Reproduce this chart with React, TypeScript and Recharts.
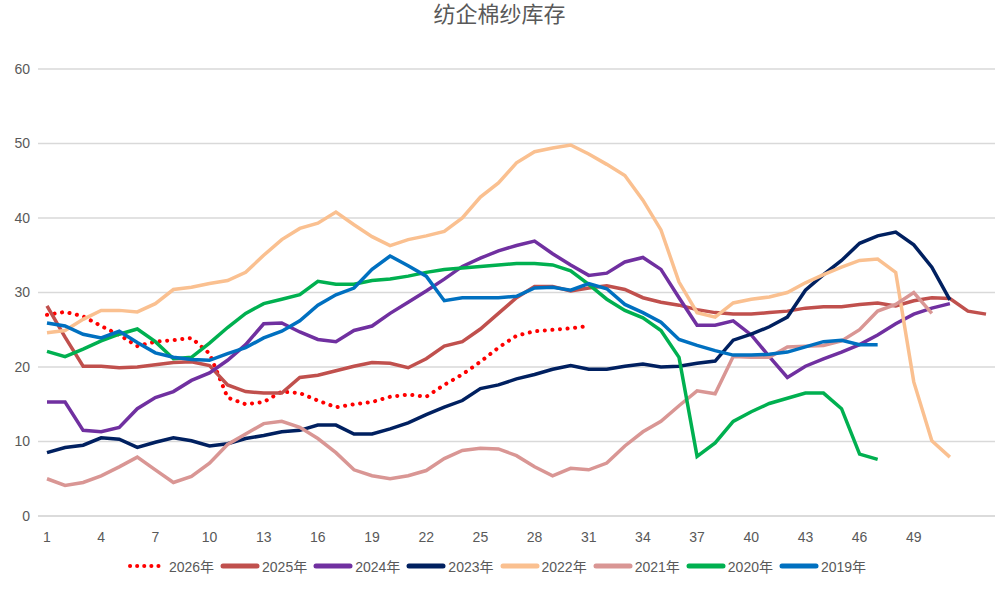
import { LineChart, Line, XAxis, YAxis, CartesianGrid } from "recharts";

const weeks = Array.from({ length: 53 }, (_, i) => String(i + 1));
const tickWeeks = ["1", "4", "7", "10", "13", "16", "19", "22", "25", "28", "31", "34", "37", "40", "43", "46", "49"];

const y2026 = [27, 27.4, 26.8, 25.5, 24.3, 22.8, 23.4, 23.6, 23.9, 21.8, 15.9, 15, 15.3, 16.7, 16.5, 15.5, 14.6, 15, 15.3, 16, 16.3, 16, 17.6, 19, 20.7, 22.6, 24.2, 24.8, 25, 25.2, 25.5];
const y2025 = [28.2, 24, 20.1, 20.1, 19.9, 20, 20.3, 20.6, 20.7, 20.2, 17.6, 16.7, 16.5, 16.5, 18.6, 18.9, 19.5, 20.1, 20.6, 20.5, 19.9, 21.1, 22.8, 23.4, 25.1, 27.2, 29.3, 30.8, 30.8, 30.2, 30.6, 30.9, 30.4, 29.3, 28.7, 28.3, 27.7, 27.3, 27.1, 27.1, 27.3, 27.5, 27.9, 28.1, 28.1, 28.4, 28.6, 28.2, 28.9, 29.3, 29.2, 27.5, 27.1];
const y2024 = [15.3, 15.3, 11.5, 11.3, 11.9, 14.4, 15.9, 16.7, 18.2, 19.2, 20.9, 23, 25.8, 25.9, 24.7, 23.7, 23.4, 24.9, 25.5, 27.2, 28.7, 30.2, 31.8, 33.5, 34.6, 35.6, 36.3, 36.9, 35.2, 33.7, 32.3, 32.6, 34.1, 34.7, 33.1, 29.3, 25.6, 25.6, 26.2, 24.3, 21.4, 18.6, 20.1, 21.1, 22, 23, 24.3, 25.8, 27.1, 27.9, 28.5];
const y2023 = [8.5, 9.2, 9.5, 10.5, 10.3, 9.2, 9.9, 10.5, 10.1, 9.4, 9.7, 10.4, 10.8, 11.3, 11.5, 12.2, 12.2, 11, 11, 11.7, 12.5, 13.6, 14.6, 15.5, 17.1, 17.6, 18.4, 19, 19.7, 20.2, 19.7, 19.7, 20.1, 20.4, 20, 20.1, 20.5, 20.8, 23.6, 24.4, 25.4, 26.7, 30.3, 32.4, 34.3, 36.6, 37.6, 38.1, 36.4, 33.4, 29];
const y2022 = [24.6, 24.9, 26.4, 27.6, 27.6, 27.4, 28.5, 30.4, 30.7, 31.2, 31.6, 32.7, 35, 37.1, 38.6, 39.3, 40.8, 39.1, 37.5, 36.3, 37.1, 37.6, 38.2, 40, 42.8, 44.7, 47.4, 48.9, 49.4, 49.8, 48.6, 47.2, 45.7, 42.4, 38.4, 31.4, 27.3, 26.7, 28.6, 29.1, 29.4, 30, 31.3, 32.4, 33.4, 34.3, 34.5, 32.7, 18, 10.1, 7.9];
const y2021 = [5, 4.1, 4.5, 5.4, 6.6, 7.9, 6.2, 4.5, 5.3, 7.1, 9.6, 11, 12.4, 12.7, 11.9, 10.4, 8.5, 6.2, 5.4, 5, 5.4, 6.1, 7.7, 8.8, 9.1, 9, 8.1, 6.6, 5.4, 6.4, 6.2, 7.1, 9.4, 11.3, 12.7, 14.8, 16.8, 16.4, 21.4, 21.3, 21.3, 22.7, 22.8, 22.9, 23.5, 25, 27.5, 28.4, 30, 27.2];
const y2020 = [22.1, 21.4, 22.4, 23.5, 24.4, 25.1, 23.4, 21.1, 21.3, 23.2, 25.3, 27.2, 28.5, 29.1, 29.7, 31.5, 31.1, 31.1, 31.6, 31.8, 32.2, 32.7, 33.1, 33.3, 33.5, 33.7, 33.9, 33.9, 33.7, 32.9, 31.1, 29.1, 27.6, 26.6, 24.9, 21.3, 8, 9.8, 12.7, 14, 15.1, 15.8, 16.5, 16.5, 14.4, 8.3, 7.6];
const y2019 = [25.9, 25.5, 24.4, 23.9, 24.8, 23.3, 21.9, 21.3, 21, 20.9, 21.8, 22.6, 23.9, 24.8, 26.2, 28.3, 29.7, 30.6, 33.1, 34.9, 33.6, 32.2, 28.9, 29.3, 29.3, 29.3, 29.5, 30.6, 30.7, 30.3, 31.2, 30.5, 28.4, 27.3, 26, 23.7, 22.9, 22.2, 21.6, 21.6, 21.7, 22, 22.7, 23.4, 23.6, 23, 23];

const series = [
  { key: "2026年", values: y2026, color: "#FF0000", dotted: true },
  { key: "2025年", values: y2025, color: "#C0504D" },
  { key: "2024年", values: y2024, color: "#7030A0" },
  { key: "2023年", values: y2023, color: "#002060" },
  { key: "2022年", values: y2022, color: "#FAC090" },
  { key: "2021年", values: y2021, color: "#D99694" },
  { key: "2020年", values: y2020, color: "#00B050" },
  { key: "2019年", values: y2019, color: "#0070C0" },
];

const data = weeks.map((w, i) => {
  const row: Record<string, string | number | null> = { week: w };
  series.forEach((s) => (row[s.key] = s.values[i] ?? null));
  return row;
});

const font = "'Liberation Sans', 'Noto Sans CJK SC', sans-serif";

function LegendBox() {
  return (
    <div
      style={{
        position: "absolute",
        top: 556,
        width: 999,
        display: "flex",
        justifyContent: "center",
        fontFamily: font,
        fontSize: 14,
        color: "#595959",
      }}
    >
      {series.map((s) => (
        <div key={s.key} style={{ display: "flex", alignItems: "center", marginRight: 6 }}>
          <svg width={40} height={10}>
            <line
              x1={3}
              x2={37}
              y1={5}
              y2={5}
              stroke={s.color}
              strokeWidth={s.dotted ? 4 : 5}
              strokeLinecap="round"
              strokeDasharray={s.dotted ? "0.1 7" : undefined}
            />
          </svg>
          <span style={{ marginLeft: 2 }}>{s.key}</span>
        </div>
      ))}
    </div>
  );
}

export default function App() {
  return (
    <div style={{ position: "absolute", left: 0, top: 0, width: 999, height: 603, background: "#fff" }}>
      <div
        style={{
          position: "absolute",
          top: 0,
          width: 999,
          textAlign: "center",
          fontFamily: font,
          fontSize: 22,
          color: "#595959",
          lineHeight: "30px",
        }}
      >
        纺企棉纱库存
      </div>
      <LineChart width={999} height={603} data={data} margin={{ top: 69, right: 4, left: 8, bottom: 57 }}>
        <CartesianGrid vertical={false} stroke="#d9d9d9" strokeWidth={1.5} />
        <XAxis
          dataKey="week"
          ticks={tickWeeks}
          interval={0}
          padding={{ left: 9, right: 9 }}
          tickLine={false}
          axisLine={{ stroke: "#d9d9d9", strokeWidth: 1.5 }}
          tick={{ fill: "#595959", fontSize: 14, fontFamily: font }}
          tickMargin={10}
        />
        <YAxis
          width={30}
          domain={[0, 60]}
          ticks={[0, 10, 20, 30, 40, 50, 60]}
          axisLine={false}
          tickLine={false}
          tick={{ fill: "#595959", fontSize: 14, fontFamily: font }}
        />
        {series.map((s) => (
          <Line
            key={s.key}
            dataKey={s.key}
            stroke={s.color}
            strokeWidth={s.dotted ? 4 : 3.5}
            strokeDasharray={s.dotted ? "0.1 7.5" : undefined}
            strokeLinecap={s.dotted ? "round" : "butt"}
            dot={false}
            isAnimationActive={false}
            connectNulls={false}
          />
        ))}
      </LineChart>
      <LegendBox />
    </div>
  );
}
